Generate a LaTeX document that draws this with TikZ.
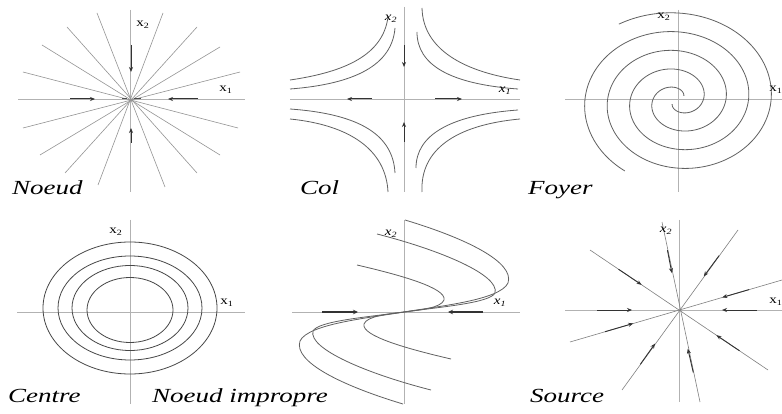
\documentclass[tikz,border=0pt]{standalone}
\usepackage{fontspec}
\usepackage{graphicx}
\setmainfont{Liberation Serif}
\usetikzlibrary{arrows.meta,calc}
\newcommand\hstretch[1]{\scalebox{1.35}[1]{#1}}
\newcommand\axstretch[1]{\scalebox{1.25}[1]{#1}}
\begin{document}
\begin{tikzpicture}[x=1pt,y=-1pt,
  axis/.style={draw=black!30, line width=0.6pt},
  ray/.style={draw=black!42, line width=0.6pt},
  curve/.style={draw=black!62, line width=0.8pt},
  ring/.style={draw=black!72, line width=0.8pt},
  arr/.style={draw=black!80, line width=1pt, -{Stealth[length=5pt,width=4pt]}},
  thickarr/.style={draw=black!80, line width=1.6pt, -{Stealth[length=5pt,width=4.5pt]}},
  lab/.style={anchor=base west, inner sep=0pt, font=\fontsize{20}{24}\selectfont\itshape},
  axl/.style={inner sep=0pt, font=\fontsize{12}{12}\selectfont},
  axli/.style={inner sep=0pt, font=\fontsize{12}{12}\selectfont\itshape}]
\fill[white] (0,0) rectangle (782,414);
\useasboundingbox (0,0) rectangle (782,414);

% ---------- Noeud ----------
\coordinate (n) at (130,99);
\draw[axis] (18,99) -- (245,99);
\draw[axis] (130,10) -- (130,192);
\foreach \a/\b in {97/13/165/187}{}
\draw[ray] (97,13) -- (165,187);
\draw[ray] (67,27) -- (197,173);
\draw[ray] (42,45) -- (220,155);
\draw[ray] (23,72) -- (238,128);
\draw[ray] (163,13) -- (98,185);
\draw[ray] (197,27) -- (65,173);
\draw[ray] (220,47) -- (40,155);
\draw[ray] (240,72) -- (23,128);
\draw[arr] (70,99) -- (95,99);
\draw[arr] (198,99) -- (168,99);
\draw[arr] (131,45) -- (131,72);
\draw[arr] (131,143) -- (131,128);
\draw[black!70, line width=1pt] (122,99) -- (127,99) (134,99) -- (141,99);
\node[axl] (nx2) at (143,25) {\axstretch{x\textsubscript{2}}};
\node[axl] (nx1) at (226,90) {\axstretch{x\textsubscript{1}}};
\node[lab] (nl) at (12,195) {\hstretch{Noeud}};

% ---------- Col ----------
\draw[axis] (290,99) -- (520,99);
\draw[axis] (404,7) -- (404,192);
\draw[curve] (290,80) .. controls (345,72) and (383,55) .. (388,17);
\draw[curve] (290,89) .. controls (355,84) and (392,65) .. (395,28);
\draw[curve] (520,80) .. controls (465,72) and (423,50) .. (422,8);
\draw[curve] (518,89) .. controls (450,84) and (417,65) .. (417,32);
\draw[curve] (290,109) .. controls (360,114) and (393,135) .. (395,173);
\draw[curve] (290,119) .. controls (350,125) and (386,150) .. (388,192);
\draw[curve] (518,110) .. controls (450,115) and (416,135) .. (416,168);
\draw[curve] (520,119) .. controls (455,125) and (420,150) .. (422,192);
\draw[arr] (404,45) -- (404,67);
\draw[arr] (404,142) -- (404,122);
\draw[arr] (372,99) -- (347,99);
\draw[arr] (435,99) -- (462,99);
\node[axli] (cx2) at (391,19) {\axstretch{x\textsubscript{2}}};
\node[axli] (cx1) at (505,91) {\axstretch{x\textsubscript{1}}};
\node[lab] (cl) at (300,195) {\hstretch{Col}};

% ---------- Foyer ----------
\draw[axis] (565,99) -- (782,99);
\draw[axis] (678,10) -- (678,192);
\draw[curve] plot[domain=-680:123, samples=500, smooth, variable=\t]
  ({678+1.2*(87+0.1047*(\t-90))*cos(\t)}, {100-(87+0.1047*(\t-90))*sin(\t)});
\draw[curve] plot[domain=-500:238, samples=500, smooth, variable=\t]
  ({678+1.2*(87+0.1047*(\t-270))*cos(\t)}, {100-(87+0.1047*(\t-270))*sin(\t)});
\node[axl] (fx2) at (664,17) {\axstretch{x\textsubscript{2}}};
\node[axl] (fx1) at (776,90) {\axstretch{x\textsubscript{1}}};
\node[lab] (fl) at (528,195) {\hstretch{Foyer}};

% ---------- Centre ----------
\draw[axis] (17,312) -- (245,312);
\draw[axis] (130,220) -- (130,404);
\draw[ring] (130,308) ellipse [x radius=87, y radius=66];
\draw[ring] (130,308) ellipse [x radius=72, y radius=52];
\draw[ring] (130,308) ellipse [x radius=58, y radius=42.5];
\draw[ring] (130,310) ellipse [x radius=43, y radius=32.5];
\node[axl] (ex2) at (116,232) {\axstretch{x\textsubscript{2}}};
\node[axl] (ex1) at (227,303) {\axstretch{x\textsubscript{1}}};
\node[lab] (el) at (8,402) {\hstretch{Centre}};

% ---------- Noeud impropre ----------
\draw[axis] (292,312) -- (520,312);
\draw[axis] (404,220) -- (404,404);
\draw[curve] (405,220) .. controls (465,238) and (515,262) .. (508,283)
  .. controls (500,300) and (440,306) .. (404,312)
  .. controls (368,318) and (308,324) .. (300,341)
  .. controls (293,362) and (343,386) .. (403,404);
\draw[curve] (377,234) .. controls (440,250) and (500,275) .. (495,293)
  .. controls (490,303) and (440,307) .. (404,312)
  .. controls (368,317) and (318,321) .. (313,331)
  .. controls (308,349) and (368,374) .. (431,390);
\draw[curve] (357,265) .. controls (400,275) and (447,288) .. (444,300)
  .. controls (441,308) and (420,310) .. (404,312)
  .. controls (388,314) and (367,316) .. (364,324)
  .. controls (361,336) and (408,349) .. (451,359);
\draw[thickarr] (322,312) -- (358,312);
\draw[thickarr] (483,312) -- (448,312);
\node[axli] (ix2) at (391,234) {\axstretch{x\textsubscript{2}}};
\node[axli] (ix1) at (500,303) {\axstretch{x\textsubscript{1}}};
\node[lab] (il) at (152,402) {\hstretch{Noeud impropre}};

% ---------- Source ----------
\coordinate (so) at (679,310);
\draw[axis] (565,310) -- (782,310);
\draw[axis] (679,220) -- (679,402);
\coordinate (a1) at (590,250); \coordinate (a2) at (768,370);
\coordinate (b1) at (570,342); \coordinate (b2) at (782,280);
\coordinate (c1) at (622,390); \coordinate (c2) at (738,230);
\coordinate (d1) at (662,222); \coordinate (d2) at (700,402);
\coordinate (h1) at (565,310); \coordinate (h2) at (780,310);
\foreach \p/\q in {a1/a2,b1/b2,c1/c2,d1/d2}{\draw[ray, draw=black!50] (\p) -- (\q);}
\foreach \p in {a1,a2,b1,b2,c1,c2,d1,d2}{
  \draw[arr, line width=0.9pt] ($(\p)!0.32!(so)$) -- ($(\p)!0.58!(so)$);}
\draw[arr] (597,310) -- (632,310);
\draw[arr] (757,310) -- (722,310);
\node[axli] (sx2) at (666,231) {\axstretch{x\textsubscript{2}}};
\node[axl] (sx1) at (776,302) {\axstretch{x\textsubscript{1}}};
\node[lab] (sl) at (530,402) {\hstretch{Source}};
\end{tikzpicture}
\end{document}
